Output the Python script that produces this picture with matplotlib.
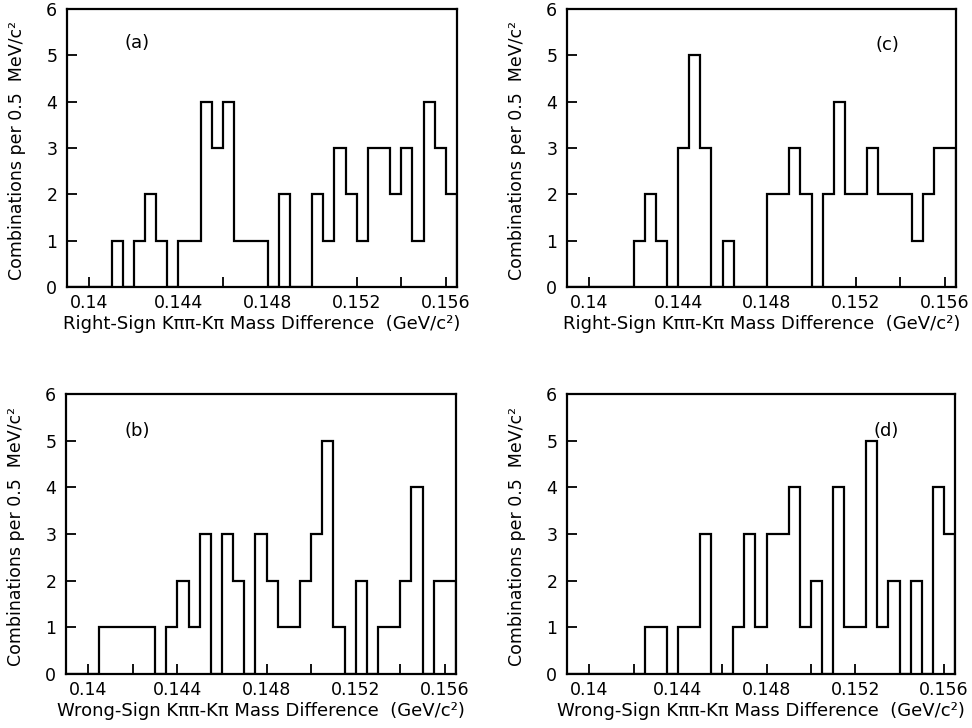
import numpy as np
import matplotlib
matplotlib.use("Agg")
import matplotlib.pyplot as plt

# Bin edges: 0.5 MeV/c^2 bins from 0.139 to 0.1565 GeV/c^2
bin_lo = 0.139
bin_hi = 0.1565
n_bins = 35
edges = np.linspace(bin_lo, bin_hi, n_bins + 1)

counts_a = [0, 0, 0, 0, 1, 0, 1, 2, 1, 0, 1, 1, 4, 3, 4, 1, 1, 1, 0, 2, 0, 0, 2, 1, 3, 2, 1, 3, 3, 2, 3, 1, 4, 3, 2]
counts_b = [0, 0, 0, 1, 1, 1, 1, 1, 0, 1, 2, 1, 3, 0, 3, 2, 0, 3, 2, 1, 1, 2, 3, 5, 1, 0, 2, 0, 1, 1, 2, 4, 0, 2, 2]
counts_c = [0, 0, 0, 0, 0, 0, 1, 2, 1, 0, 3, 5, 3, 0, 1, 0, 0, 0, 2, 2, 3, 2, 0, 2, 4, 2, 2, 3, 2, 2, 2, 1, 2, 3, 3]
counts_d = [0, 0, 0, 0, 0, 0, 0, 1, 1, 0, 1, 1, 3, 0, 0, 1, 3, 1, 3, 3, 4, 1, 2, 0, 4, 1, 1, 5, 1, 2, 0, 2, 0, 4, 3]

major_ticks = [0.14, 0.144, 0.148, 0.152, 0.156]
major_labels = ["0.14", "0.144", "0.148", "0.152", "0.156"]
minor_ticks = [0.142, 0.146, 0.150, 0.154]
y_ticks = [0, 1, 2, 3, 4, 5, 6]

xlabel_rs = "Right-Sign K\u03c0\u03c0-K\u03c0 Mass Difference  (GeV/c\u00b2)"
xlabel_ws = "Wrong-Sign K\u03c0\u03c0-K\u03c0 Mass Difference  (GeV/c\u00b2)"
ylabel = "Combinations per 0.5  MeV/c\u00b2"

panels = [
    # counts, tag, tag position, xlabel, axes rect
    (counts_a, "(a)", (0.14213, 5.27), xlabel_rs, [67 / 972, (728 - 287) / 728, 390 / 972, 278 / 728]),
    (counts_c, "(c)", (0.1534, 5.23), xlabel_rs, [567 / 972, (728 - 287) / 728, 389 / 972, 278 / 728]),
    (counts_b, "(b)", (0.14218, 5.21), xlabel_ws, [66 / 972, (728 - 674) / 728, 390 / 972, 280 / 728]),
    (counts_d, "(d)", (0.15338, 5.21), xlabel_ws, [567 / 972, (728 - 674) / 728, 388 / 972, 280 / 728]),
]

fig = plt.figure(figsize=(9.72, 7.28), dpi=100)
fig.patch.set_facecolor("white")

for counts, tag, tagpos, xl, rect in panels:
    ax = fig.add_axes(rect)
    ax.stairs(counts, edges, baseline=0, color="black", linewidth=1.6)
    ax.set_xlim(bin_lo, bin_hi)
    ax.set_ylim(0, 6)
    ax.set_xticks(major_ticks)
    ax.set_xticklabels(major_labels)
    ax.set_xticks(minor_ticks, minor=True)
    ax.set_yticks(y_ticks)
    ax.tick_params(axis="both", which="both", direction="in", length=7, width=1.3,
                   labelsize=12.5, top=False, right=False)
    ax.tick_params(axis="x", which="major", pad=5)
    ax.tick_params(axis="y", which="major", pad=7)
    for s in ax.spines.values():
        s.set_linewidth(1.6)
    ax.set_xlabel(xl, fontsize=13, labelpad=2)
    ax.set_ylabel(ylabel, fontsize=12.5)
    ax.yaxis.set_label_coords(-0.105, 0.49)
    ax.text(tagpos[0], tagpos[1], tag, fontsize=13, ha="center", va="center")

fig.savefig("out.png", dpi=100, facecolor="white")
